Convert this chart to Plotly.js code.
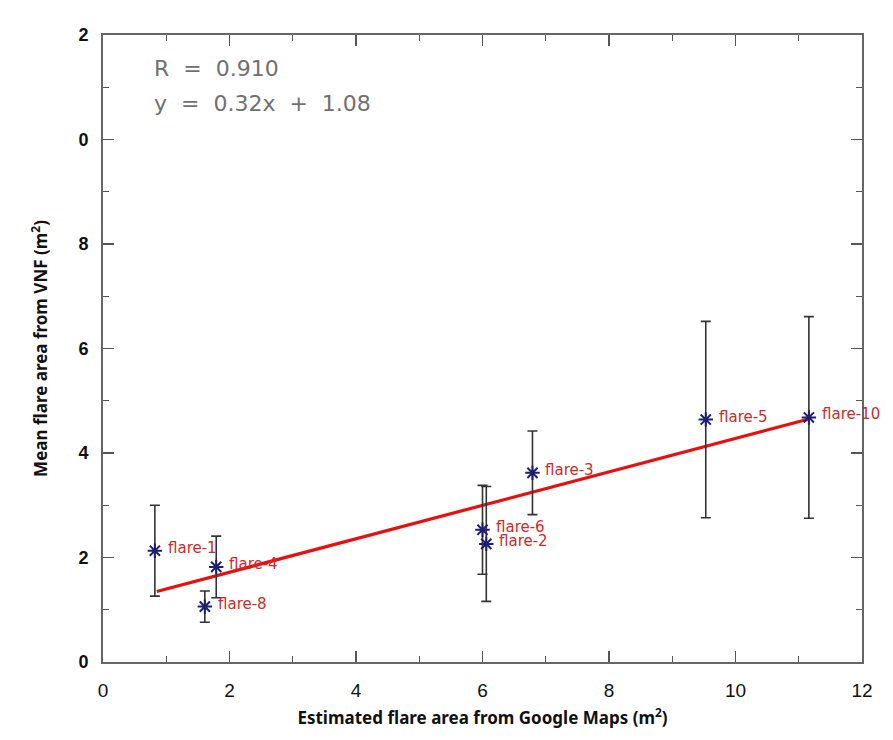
<!DOCTYPE html>
<html>
<head>
<meta charset="utf-8">
<script src="https://cdn.plot.ly/plotly-3.0.1.min.js"></script>
<style>html,body{margin:0;padding:0;background:#fff;}#chart{width:893px;height:740px;}</style>
</head>
<body>
<div id="chart"></div>
<script>
// Data
const flareNames = ['flare-1','flare-4','flare-8','flare-6','flare-2','flare-3','flare-5','flare-10'];
const googleArea = [0.82, 1.79, 1.61, 6.00, 6.06, 6.79, 9.53, 11.16];
const vnfArea    = [2.13, 1.82, 1.06, 2.53, 2.26, 3.62, 4.64, 4.68];
const vnfError   = [0.87, 0.59, 0.30, 0.85, 1.10, 0.80, 1.88, 1.93];
const fitX = [0.85, 11.16];
const fitY = [1.35, 4.65];
const xTickVals = [0, 2, 4, 6, 8, 10, 12];
const xTickText = ['0', '2', '4', '6', '8', '10', '12'];
const yTickVals = [0, 2, 4, 6, 8, 10, 12];
const yTickText = ['0', '2', '4', '6', '8', '0', '2'];
const statLines = ['R  =  0.910', 'y  =  0.32x  +  1.08'];

const traces = [
  {
    x: fitX, y: fitY, mode: 'lines', type: 'scatter',
    line: {color: '#e8100f', width: 3.2}, hoverinfo: 'skip', showlegend: false
  },
  {
    x: googleArea, y: vnfArea, mode: 'markers', type: 'scatter',
    marker: {symbol: 'asterisk-open', size: 12, color: '#1c1f72', line: {color: '#1c1f72', width: 2}},
    error_y: {type: 'data', array: vnfError, visible: true, color: '#333333', thickness: 1.6, width: 5},
    showlegend: false, cliponaxis: false
  }
];

const labelAnnotations = flareNames.map((name, i) => ({
  x: googleArea[i], y: vnfArea[i], xref: 'x', yref: 'y',
  text: name, showarrow: false, xanchor: 'left', yanchor: 'middle',
  xshift: 11, yshift: 3,
  font: {family: 'DejaVu Sans', size: 15, color: '#cf2a2a'}
}));

const axisCommon = {
  range: [0, 12], showgrid: false, zeroline: false,
  showline: true, linecolor: '#666', linewidth: 2, mirror: 'ticks',
  ticks: 'inside', ticklen: 11, tickwidth: 1.5, tickcolor: '#555',
  minor: {tickvals: [1, 3, 5, 7, 9, 11], ticks: 'inside', ticklen: 6, tickwidth: 1.3, tickcolor: '#555'}
};

const layout = {
  width: 893, height: 740,
  margin: {l: 103, r: 31, t: 35, b: 78},
  paper_bgcolor: '#ffffff', plot_bgcolor: '#ffffff',
  xaxis: Object.assign({}, axisCommon, {
    tickmode: 'array', tickvals: xTickVals, ticktext: xTickText,
    tickfont: {family: 'Liberation Sans', size: 19, color: '#111'},
    ticklabelstandoff: 10,
    title: {text: 'Estimated flare area from Google Maps (m<sup>2</sup>)',
            font: {family: 'Noto Sans', size: 17, color: '#111', weight: 'bold'}, standoff: 12}
  }),
  yaxis: Object.assign({}, axisCommon, {
    tickmode: 'array', tickvals: yTickVals, ticktext: yTickText,
    tickfont: {family: 'Liberation Sans', size: 18, color: '#111', weight: 'bold'},
    ticklabelstandoff: 9,
    title: {text: 'Mean flare area from VNF (m<sup>2</sup>)',
            font: {family: 'Noto Sans', size: 17, color: '#111', weight: 'bold'}, standoff: 26}
  }),
  annotations: [
    {xref: 'paper', yref: 'paper', x: 0.065, y: 0.946, xanchor: 'left', yanchor: 'middle',
     text: statLines[0], showarrow: false, font: {family: 'DejaVu Sans', size: 22, color: '#707070'}},
    {xref: 'paper', yref: 'paper', x: 0.065, y: 0.891, xanchor: 'left', yanchor: 'middle',
     text: statLines[1], showarrow: false, font: {family: 'DejaVu Sans', size: 22, color: '#707070'}}
  ].concat(labelAnnotations)
};

Plotly.newPlot('chart', traces, layout, {displayModeBar: false, staticPlot: true});
</script>
</body>
</html>
